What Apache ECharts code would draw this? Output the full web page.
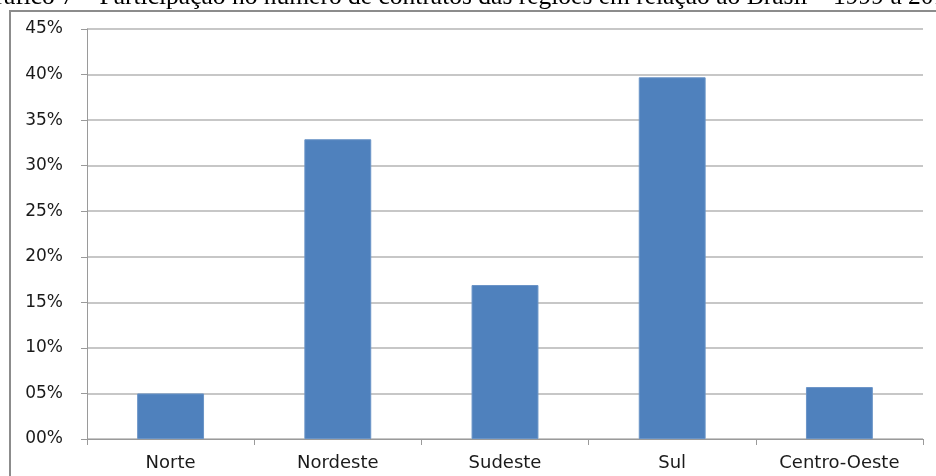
<!DOCTYPE html>
<html><head><meta charset="utf-8">
<script src="https://cdn.jsdelivr.net/npm/echarts@6/dist/echarts.min.js"></script>
<style>html,body{margin:0;padding:0;background:#fff}#c{width:936px;height:476px}</style>
</head><body><div id="c"></div>
<script>
const titleText = 'Gráfico 7 – Participação no número de contratos das regiões em relação ao Brasil – 1999 a 2010';
const categories = ['Norte', 'Nordeste', 'Sudeste', 'Sul', 'Centro-Oeste'];
const values = [5.0, 32.9, 16.9, 39.7, 5.7];
const yMin = 0, yMax = 45, yStep = 5;

const chart = echarts.init(document.getElementById('c'), null, {renderer: 'canvas'});
chart.setOption({
  animation: false,
  backgroundColor: '#fff',
  graphic: [
    {type: 'text', left: -23, top: -16, z: 10,
     style: {text: titleText, font: '25.5px "Liberation Serif", "Times New Roman", serif', fill: '#000'}},
    {type: 'rect', shape: {x: 10, y: 11, width: 940, height: 480},
     style: {fill: 'none', stroke: '#8c8c8c', lineWidth: 2}, z: 1}
  ],
  grid: {left: 87, right: 13, top: 29, bottom: 37},
  xAxis: {
    type: 'category', data: categories,
    axisLine: {lineStyle: {color: '#9a9a9a', width: 1}},
    axisTick: {show: true, length: 6, lineStyle: {color: '#9a9a9a'}},
    axisLabel: {color: '#1a1a1a', fontSize: 18, fontFamily: 'DejaVu Sans, sans-serif', margin: 15}
  },
  yAxis: {
    type: 'value', min: yMin, max: yMax, interval: yStep,
    axisLine: {show: true, lineStyle: {color: '#9a9a9a', width: 1}},
    axisTick: {show: true, length: 6, lineStyle: {color: '#9a9a9a'}},
    splitLine: {lineStyle: {color: '#b4b4b4', width: 1.5}},
    axisLabel: {color: '#1a1a1a', fontSize: 17, fontFamily: 'DejaVu Sans, sans-serif', margin: 24,
      formatter: v => String(v).padStart(2, '0') + '%'}
  },
  series: [{
    type: 'bar', data: values, barWidth: '40%',
    itemStyle: {color: '#4f81bd', borderColor: '#6a94c7', borderWidth: 1}
  }]
});
</script></body></html>
